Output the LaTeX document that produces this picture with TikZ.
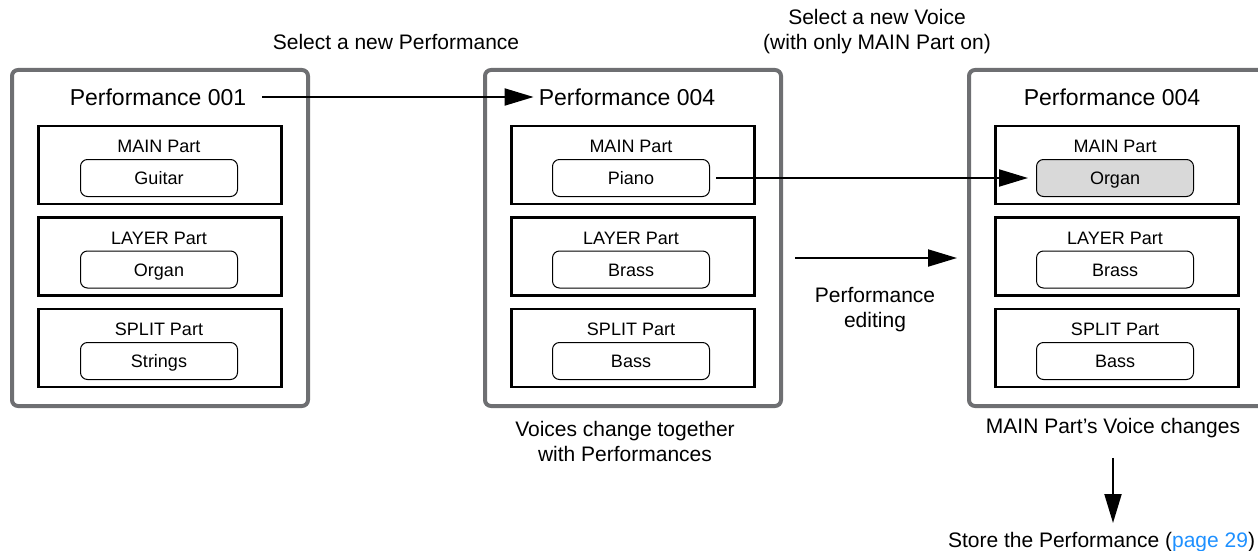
\documentclass[tikz,border=0pt]{standalone}
\usepackage{fontspec}
\setmainfont{Liberation Sans}
\usetikzlibrary{positioning,arrows.meta}
\definecolor{framegray}{RGB}{110,111,114}
\definecolor{pickgray}{RGB}{217,217,217}
\definecolor{linkblue}{RGB}{30,144,255}

\begin{document}
\begin{tikzpicture}[x=1pt, y=-1pt,
    perf/.style={draw=framegray, line width=4pt, rounded corners=6pt, minimum width=296pt, minimum height=336pt},
    part/.style={draw, line width=2.4pt, minimum width=243pt, minimum height=78pt},
    voice/.style={draw, line width=1pt, rounded corners=7pt, minimum width=157pt, minimum height=37pt, inner sep=0pt, text height=15pt, text depth=2pt, font=\fontsize{18}{20}\selectfont},
    plabel/.style={inner sep=0pt, font=\fontsize{18}{20}\selectfont},
    ptitle/.style={inner sep=0pt, font=\fontsize{23}{26}\selectfont},
    caption/.style={inner sep=0pt, align=center, font=\fontsize{21}{25}\selectfont},
    arr/.style={line width=2pt, -{Triangle[length=29pt, width=17pt]}}]
    \useasboundingbox (0,0) rectangle (1258,551);

    % Performance 001
    \node[perf] (p1) at (160,238) {};
    \node[ptitle] (t1) at (158,97) {Performance 001};
    \foreach \i/\y/\pt/\vo in {1/165/MAIN/Guitar, 2/256.5/LAYER/Organ, 3/348/SPLIT/Strings} {
        \node[part] (p1part\i) at (160,\y) {};
        \node[voice] (p1voice\i) at (159,\y+13) {\vo};
        \node[plabel, above=6pt of p1voice\i] (p1lab\i) {\pt\ Part};
    }

    % Performance 004
    \node[perf] (p2) at (633,238) {};
    \node[ptitle] (t2) at (627,97) {Performance 004};
    \foreach \i/\y/\pt/\vo in {1/165/MAIN/Piano, 2/256.5/LAYER/Brass, 3/348/SPLIT/Bass} {
        \node[part] (p2part\i) at (633,\y) {};
        \node[voice] (p2voice\i) at (631,\y+13) {\vo};
        \node[plabel, above=6pt of p2voice\i] (p2lab\i) {\pt\ Part};
    }

    % Performance 004 after editing
    \node[perf] (p3) at (1117,238) {};
    \node[ptitle] (t3) at (1112,97) {Performance 004};
    \foreach \i/\y/\pt/\vo/\fc in {1/165/MAIN/Organ/pickgray, 2/256.5/LAYER/Brass/white, 3/348/SPLIT/Bass/white} {
        \node[part] (p3part\i) at (1117,\y) {};
        \node[voice, fill=\fc] (p3voice\i) at (1115,\y+13) {\vo};
        \node[plabel, above=6pt of p3voice\i] (p3lab\i) {\pt\ Part};
    }

    % steps
    \node[caption] (selperf) at (396,42) {Select a new Performance};
    \node[caption] (selvoice) at (877,32) {Select a new Voice\\(with only MAIN Part on)};
    \node[caption] (editlab) at (875,310) {Performance\\editing};
    \node[caption] (together) at (625,441) {Voices change together\\with Performances};
    \node[caption] (changes) at (1113,428) {MAIN Part's Voice changes};
    \node[caption] (store) at (1101.5,542) {Store the Performance (\textcolor{linkblue}{page 29})};

    \coordinate (editfrom) at (795,258);
    \coordinate (editto) at (957,258);

    \draw[arr, shorten <=16pt, shorten >=5pt] (t1.east) -- (t2.west);
    \draw[arr, shorten <=6pt, shorten >=8pt] (p2voice1.east) -- (p3voice1.west);
    \draw[arr] (editfrom) -- (editto);
    \draw[arr, shorten <=20pt, shorten >=9pt] (changes.south) -- (changes.south |- store.north);
\end{tikzpicture}
\end{document}
